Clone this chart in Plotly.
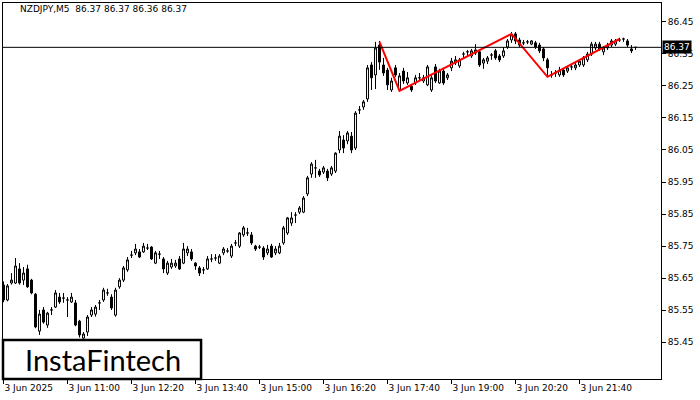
import plotly.graph_objects as go

# ---- data (NZDJPY M5, 3 Jun 2025, bars from 09:40) ----
opens = [85.629,85.582,85.635,85.635,85.679,85.644,85.679,85.644,85.600,85.485,
         85.551,85.504,85.551,85.560,85.591,85.588,85.582,85.576,85.573,85.516,
         85.463,85.482,85.535,85.538,85.573,85.582,85.604,85.591,85.535,85.623,
         85.644,85.676,85.722,85.729,85.732,85.732,85.744,85.747,85.697,85.725,
         85.710,85.666,85.685,85.688,85.710,85.697,85.729,85.732,85.697,85.682,
         85.676,85.679,85.710,85.713,85.697,85.729,85.735,85.719,85.760,85.750,
         85.785,85.791,85.785,85.750,85.747,85.744,85.729,85.750,85.729,85.729,
         85.760,85.791,85.822,85.847,85.856,85.856,85.913,85.975,85.994,85.984,
         85.981,85.984,85.975,85.984,86.050,86.081,86.078,86.093,86.056,86.175,
         86.184,86.209,86.315,86.284,86.377,86.315,86.299,86.237,86.306,86.237,
         86.296,86.259,86.249,86.259,86.275,86.265,86.253,86.237,86.309,86.259,
         86.296,86.275,86.306,86.321,86.312,86.349,86.356,86.343,86.352,86.356,
         86.321,86.327,86.346,86.359,86.343,86.343,86.371,86.393,86.412,86.393,
         86.384,86.387,86.380,86.384,86.377,86.365,86.331,86.284,86.290,86.284,
         86.299,86.296,86.309,86.306,86.315,86.315,86.331,86.349,86.368,86.380,
         86.356,86.368,86.377,86.380,86.393,86.396,86.390,86.365,86.370]
highs = [85.640,85.632,85.666,85.713,85.697,85.685,85.692,85.648,85.604,85.551,
         85.560,85.545,85.560,85.613,85.604,85.604,85.591,85.604,85.582,85.520,
         85.482,85.535,85.560,85.566,85.582,85.620,85.617,85.600,85.620,85.650,
         85.688,85.716,85.735,85.757,85.741,85.760,85.757,85.750,85.735,85.735,
         85.716,85.704,85.710,85.707,85.719,85.760,85.750,85.741,85.700,85.688,
         85.685,85.719,85.725,85.725,85.725,85.747,85.744,85.757,85.769,85.794,
         85.813,85.807,85.794,85.754,85.754,85.750,85.754,85.757,85.750,85.760,
         85.813,85.841,85.856,85.856,85.875,85.906,85.969,86.012,86.019,85.991,
         86.000,85.991,86.000,86.043,86.109,86.096,86.109,86.106,86.171,86.187,
         86.206,86.315,86.324,86.387,86.390,86.337,86.306,86.275,86.315,86.290,
         86.306,86.293,86.256,86.284,86.290,86.284,86.315,86.284,86.318,86.303,
         86.306,86.290,86.337,86.343,86.337,86.356,86.362,86.365,86.380,86.362,
         86.337,86.343,86.352,86.365,86.349,86.371,86.396,86.418,86.418,86.400,
         86.393,86.393,86.393,86.390,86.384,86.371,86.337,86.296,86.299,86.309,
         86.303,86.312,86.315,86.321,86.331,86.343,86.356,86.387,86.387,86.387,
         86.374,86.384,86.396,86.396,86.400,86.400,86.396,86.377,86.370]
lows = [85.575,85.578,85.630,85.632,85.630,85.629,85.620,85.600,85.494,85.473,
        85.508,85.495,85.535,85.557,85.570,85.573,85.529,85.573,85.500,85.465,
        85.457,85.470,85.529,85.530,85.551,85.576,85.595,85.551,85.530,85.617,
        85.638,85.670,85.713,85.722,85.713,85.729,85.738,85.707,85.694,85.710,
        85.666,85.660,85.679,85.682,85.676,85.694,85.719,85.704,85.676,85.657,
        85.663,85.676,85.700,85.704,85.694,85.722,85.729,85.713,85.750,85.744,
        85.779,85.782,85.754,85.735,85.741,85.707,85.722,85.713,85.722,85.725,
        85.754,85.785,85.813,85.822,85.850,85.853,85.906,85.963,85.963,85.966,
        85.975,85.953,85.969,85.978,86.040,86.040,86.068,86.040,86.050,86.162,
        86.175,86.200,86.237,86.240,86.300,86.281,86.237,86.231,86.278,86.234,
        86.256,86.253,86.231,86.253,86.265,86.259,86.249,86.231,86.259,86.256,
        86.253,86.268,86.296,86.315,86.306,86.337,86.343,86.337,86.346,86.309,
        86.303,86.318,86.331,86.331,86.324,86.337,86.365,86.384,86.380,86.371,
        86.377,86.380,86.377,86.365,86.352,86.327,86.281,86.275,86.278,86.278,
        86.278,86.290,86.299,86.299,86.309,86.309,86.324,86.343,86.362,86.359,
        86.346,86.362,86.371,86.374,86.387,86.387,86.371,86.352,86.362]
closes = [85.582,85.626,85.644,85.688,85.635,85.666,85.623,85.604,85.498,85.538,
          85.513,85.541,85.551,85.604,85.576,85.588,85.582,85.591,85.504,85.473,
          85.476,85.529,85.551,85.560,85.573,85.613,85.604,85.557,85.613,85.644,
          85.682,85.707,85.722,85.741,85.716,85.750,85.744,85.710,85.729,85.725,
          85.679,85.697,85.697,85.697,85.679,85.741,85.741,85.710,85.688,85.666,
          85.676,85.710,85.710,85.713,85.719,85.741,85.735,85.750,85.760,85.791,
          85.807,85.791,85.760,85.741,85.747,85.716,85.741,85.716,85.741,85.750,
          85.807,85.838,85.838,85.847,85.869,85.900,85.963,86.006,85.994,85.972,
          85.994,85.963,85.994,86.040,86.093,86.056,86.103,86.050,86.165,86.175,
          86.200,86.306,86.275,86.368,86.324,86.290,86.253,86.265,86.284,86.281,
          86.265,86.275,86.237,86.275,86.275,86.275,86.309,86.275,86.265,86.296,
          86.259,86.284,86.327,86.331,86.331,86.349,86.356,86.359,86.362,86.315,
          86.331,86.337,86.346,86.337,86.331,86.359,86.390,86.409,86.390,86.377,
          86.384,86.387,86.390,86.371,86.359,86.337,86.306,86.284,86.290,86.299,
          86.284,86.306,86.309,86.315,86.327,86.337,86.349,86.380,86.380,86.365,
          86.368,86.377,86.390,86.390,86.393,86.396,86.377,86.359,86.370]

# pattern (red) pivot points: bar index and price
pattern_bar = [94, 99, 127, 136, 154]
pattern_price = [86.387, 86.234, 86.412, 86.278, 86.396]

last_price = 86.37
title_text = "NZDJPY,M5  86.37 86.37 86.36 86.37"

x_tick_bars = [0, 16, 32, 48, 64, 80, 96, 112, 128, 144]
x_tick_labels = ["3 Jun 2025", "3 Jun 11:00", "3 Jun 12:20", "3 Jun 13:40",
                 "3 Jun 15:00", "3 Jun 16:20", "3 Jun 17:40", "3 Jun 19:00",
                 "3 Jun 20:20", "3 Jun 21:40"]
y_tick_vals = [85.45, 85.55, 85.65, 85.75, 85.85, 85.95, 86.05, 86.15, 86.25, 86.35, 86.45]
y_tick_labels = ["85.45", "85.55", "85.65", "85.75", "85.85", "85.95",
                 "86.05", "86.15", "86.25", "86.35", "86.45"]

bars = list(range(len(closes)))

FONT = "DejaVu Sans"

fig = go.Figure()
fig.add_trace(go.Candlestick(
    x=bars, open=opens, high=highs, low=lows, close=closes,
    increasing=dict(line=dict(color="black", width=1), fillcolor="white"),
    decreasing=dict(line=dict(color="black", width=1), fillcolor="black"),
    whiskerwidth=0, showlegend=False, hoverinfo="skip",
))
fig.add_trace(go.Scatter(
    x=pattern_bar, y=pattern_price, mode="lines",
    line=dict(color="#ff0000", width=2), showlegend=False, hoverinfo="skip",
))

fig.add_hline(y=last_price, line=dict(color="black", width=1))

fig.update_layout(
    width=700, height=400,
    margin=dict(l=3, r=39, t=3, b=21, autoexpand=False),
    paper_bgcolor="white", plot_bgcolor="white",
    font=dict(family=FONT, size=9, color="black"),
    showlegend=False,
    xaxis=dict(
        range=[-0.125, 164.375], rangeslider=dict(visible=False),
        showgrid=False, zeroline=False,
        showline=True, mirror=True, linecolor="black", linewidth=1,
        tickmode="array", tickvals=x_tick_bars, ticktext=x_tick_labels,
        ticks="outside", ticklen=4, tickcolor="black",
        ticklabelposition="outside right",
        tickfont=dict(family=FONT, size=9, color="black"),
    ),
    yaxis=dict(
        range=[85.3356, 86.5083], side="right",
        showgrid=False, zeroline=False,
        showline=True, mirror=True, linecolor="black", linewidth=1,
        tickmode="array", tickvals=y_tick_vals, ticktext=y_tick_labels,
        ticks="outside", ticklen=4, tickcolor="black",
        tickfont=dict(family=FONT, size=9, color="black"),
    ),
)

# title in top-left corner
fig.add_annotation(text=title_text, xref="paper", yref="paper", x=0.023, y=0.984,
                   xanchor="left", yanchor="middle", showarrow=False,
                   font=dict(family=FONT, size=9, color="black"))

# last price label
fig.add_annotation(text=str(last_price), xref="paper", yref="y", x=1, y=last_price,
                   xanchor="left", yanchor="middle", xshift=1, showarrow=False,
                   bgcolor="black", borderpad=1,
                   font=dict(family=FONT, size=9, color="white"))

# logo box
fig.add_shape(type="rect", xref="paper", yref="paper", x0=0.0, x1=0.301, y0=0.0, y1=0.104,
              line=dict(color="black", width=2.5), fillcolor="white", layer="above")
fig.add_annotation(text="InstaFintech", xref="paper", yref="paper", x=0.152, y=0.052,
                   xanchor="center", yanchor="middle", showarrow=False,
                   font=dict(family="Lato", size=29, color="black"))

fig.write_html("out.html", config={"displayModeBar": False},
               post_script="document.body.style.margin='0px';")
